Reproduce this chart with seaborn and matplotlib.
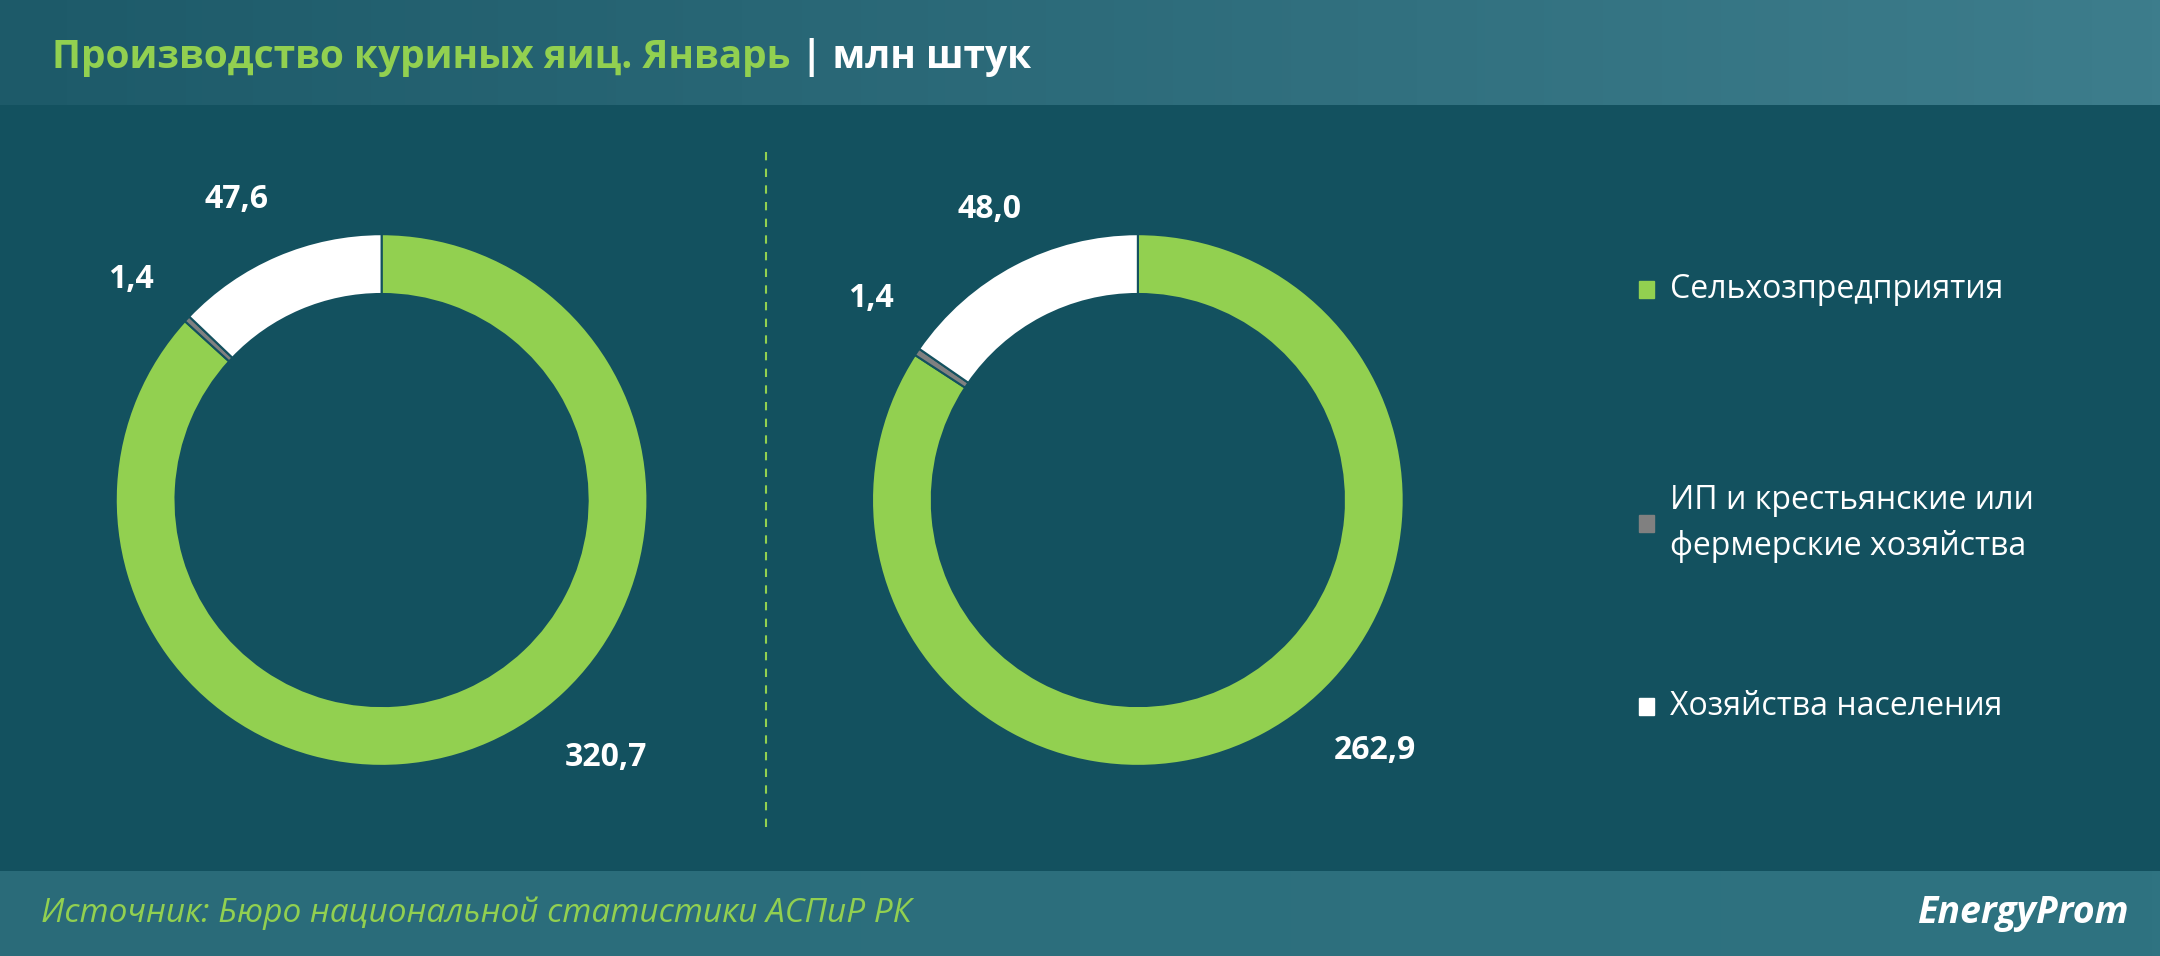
import matplotlib
matplotlib.use("Agg")
import matplotlib.pyplot as plt
import seaborn as sns
import numpy as np
from matplotlib.patches import Rectangle
from matplotlib.colors import LinearSegmentedColormap

sns.set_style("white")
plt.rcParams['font.family'] = ['Open Sans', 'DejaVu Sans']

categories = ["Сельхозпредприятия", "ИП и крестьянские или\nфермерские хозяйства", "Хозяйства населения"]
values_left = [320.7, 1.4, 47.6]
values_right = [262.9, 1.4, 48.0]
labels_left = ["320,7", "1,4", "47,6"]
labels_right = ["262,9", "1,4", "48,0"]
colors = ["#92d050", "#808080", "#ffffff"]

W, H = 1568, 694
fig = plt.figure(figsize=(21.6, 9.56), dpi=100)
bg = "#13515f"
fig.patch.set_facecolor(bg)

grad = np.linspace(0, 1, 256).reshape(1, -1)
hax = fig.add_axes([0, 1 - 76 / H, 1, 76 / H])
cmap = LinearSegmentedColormap.from_list("h", ["#1d5a69", "#3d7d8c"])
hax.imshow(grad, aspect="auto", cmap=cmap, extent=[0, 1, 0, 1])
hax.axis("off")
fax = fig.add_axes([0, 0, 1, 62 / H])
cmap2 = LinearSegmentedColormap.from_list("f", ["#2a6b79", "#2f7381"])
fax.imshow(grad, aspect="auto", cmap=cmap2, extent=[0, 1, 0, 1])
fax.axis("off")

t = fig.text(38 / W, 1 - 42 / H, "Производство куриных яиц. Январь ", color="#92d050",
             fontsize=28, fontweight="bold", va="center")
fig.canvas.draw()
bb = t.get_window_extent()
fig.text(bb.x1 / fig.bbox.width, 1 - 42 / H, "| млн штук", color="white",
         fontsize=28, fontweight="bold", va="center")
fig.text(30 / W, 1 - 663 / H, "Источник: Бюро национальной статистики АСПиР РК",
         color="#92d050", fontsize=24, style="italic", va="center")
fig.text(1545 / W, 1 - 663 / H, "EnergyProm", color="white", fontsize=27,
         fontweight="bold", style="italic", ha="right", va="center")

def donut(cx, cy, vals, labs, pos):
    r = 193
    ax = fig.add_axes([(cx - r) / W, 1 - (cy + r) / H, 2 * r / W, 2 * r / H])
    ax.pie(vals, colors=colors, startangle=90, counterclock=False,
           wedgeprops=dict(width=0.225, edgecolor=bg, linewidth=1.5))
    ax.set_xlim(-1, 1); ax.set_ylim(-1, 1); ax.set_aspect("auto")
    ax.axis("off")
    for lab, (x, y) in zip(labs, pos):
        fig.text(x / W, 1 - y / H, lab, color="white", fontsize=23,
                 fontweight="bold", ha="center", va="center")

donut(277, 363, values_left, labels_left, [(440, 550), (95, 203), (172, 145)])
donut(826, 363, values_right, labels_right, [(998, 545), (632, 217), (718, 152)])

line = fig.add_axes([0, 0, 1, 1], facecolor="none")
line.set_xlim(0, W); line.set_ylim(H, 0); line.axis("off")
line.plot([556, 556], [110, 602], color="#92d050", ls=(0, (4, 4)), lw=1.5)

ly = [210, 380, 513]
for c, lab, y in zip(colors, categories, ly):
    line.add_patch(Rectangle((1190, y - 6), 11, 12, color=c))
    line.text(1212, y, lab, color="white", fontsize=23, va="center", linespacing=1.5)

fig.savefig("out.png", dpi=100, facecolor=fig.get_facecolor())
